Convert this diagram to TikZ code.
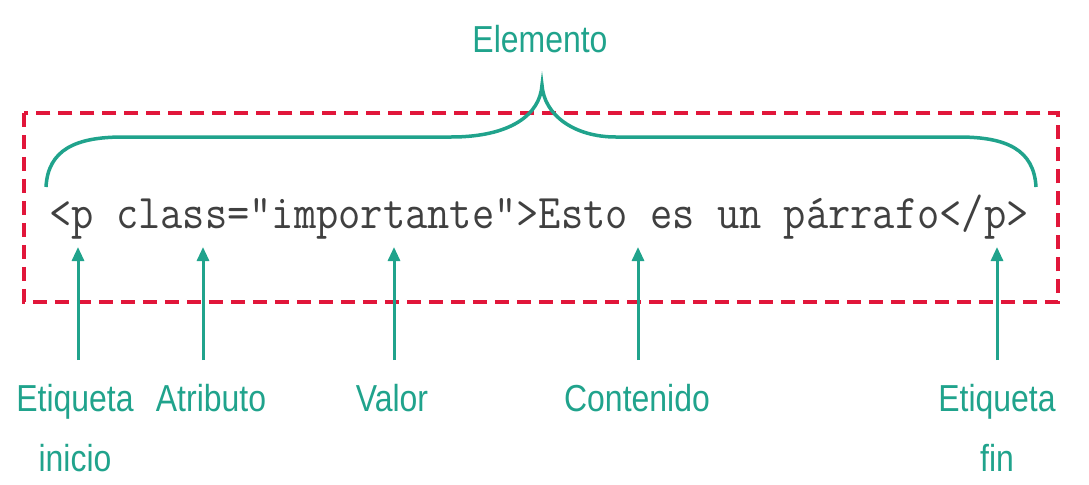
\documentclass[tikz,border=0pt]{standalone}
\usepackage{fontspec}
\newfontfamily\lblfont[FakeStretch=0.85]{Liberation Sans}
\usetikzlibrary{arrows.meta}
\definecolor{verde}{RGB}{32,163,140}
\definecolor{rojo}{RGB}{225,22,58}
\definecolor{gris}{RGB}{64,64,64}
\tikzset{
    etiq/.style={text=verde, font=\lblfont\fontsize{21.4}{34}\selectfont, align=center,
      inner xsep=0pt, inner ysep=0.48cm, anchor=north},
    flecha/.style={draw=verde, line width=0.06cm, -{Triangle[length=0.28cm,width=0.24cm]}},
    marco/.style={draw=rojo, line width=0.08cm, dash pattern=on 0.28cm off 0.16cm},
    llave/.style={draw=verde, line width=0.07cm},
  }
\begin{document}
\begin{tikzpicture}[x=0.02cm,y=-0.02cm]
    \useasboundingbox (0,0) rectangle (1089,484);
    % marco del elemento
        \draw[marco] (24,113) rectangle (1058,302);
    % codigo html
        \node[text=gris, font=\ttfamily\fontsize{24.6}{28}\selectfont, inner sep=0pt, anchor=base] (codigo) at (539,228)
          {\scalebox{1}[1.12]{<p class="importante">Esto es un párrafo</p>}};
    % llave y su texto
        \draw[llave] (46,187) .. controls (48,150) and (75,137) .. (123,137) -- (451,137)
          .. controls (510,137) and (540,115) .. (542,85)
          .. controls (544,115) and (574,137) .. (616,137) -- (959,137)
          .. controls (1007,137) and (1034,150) .. (1036,187);
        \node[etiq, inner ysep=0pt, anchor=base] (elemento) at (540,52) {Elemento};
    % etiquetas de abajo
        \node[etiq] (ini) at (75,360) {Etiqueta\\inicio};
        \node[etiq] (atr) at (211,360) {Atributo};
        \node[etiq] (val) at (392,360) {Valor};
        \node[etiq] (con) at (637,360) {Contenido};
        \node[etiq] (fin) at (997,360) {Etiqueta\\fin};
    % puntas de las flechas
        \coordinate (pA) at (78,247);
        \coordinate (pB) at (203,247);
        \coordinate (pC) at (394,247);
        \coordinate (pD) at (638,247);
        \coordinate (pE) at (997,247);
        \foreach \l/\p in {ini/pA, atr/pB, val/pC, con/pD, fin/pE}
            \draw[flecha] (\l.north -| \p) -- (\p);
\end{tikzpicture}
\end{document}
